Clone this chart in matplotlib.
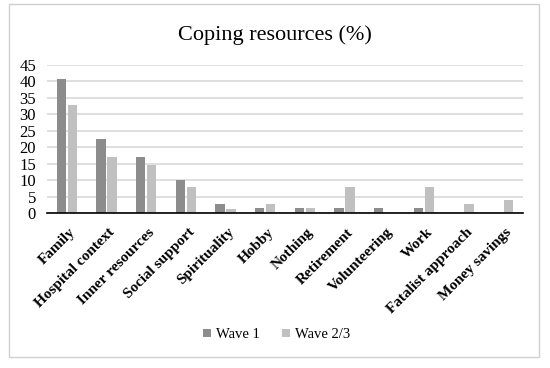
import numpy as np
import matplotlib
matplotlib.use("Agg")
import matplotlib.pyplot as plt
from matplotlib.patches import Rectangle

## data (percent)
categories = ["Family", "Hospital context", "Inner resources", "Social support",
              "Spirituality", "Hobby", "Nothing", "Retirement", "Volunteering",
              "Work", "Fatalist approach", "Money savings"]
wave1 = [40.7, 22.6, 16.9, 10.0, 2.8, 1.4, 1.4, 1.4, 1.4, 1.4, 0.0, 0.0]
wave23 = [32.9, 17.1, 14.5, 7.9, 1.3, 2.6, 1.4, 7.9, 0.0, 7.9, 2.6, 3.9]
series_names = ["Wave 1", "Wave 2/3"]
yticks = list(range(0, 50, 5))

plt.rcParams['font.family'] = ['Liberation Serif', 'DejaVu Serif']

fig = plt.figure(figsize=(5.5, 3.68), dpi=100)
ax = fig.add_axes([47/550, 1 - 213/368, (523 - 47)/550, (213 - 65)/368])

# outer chart frame
fig.patches.append(Rectangle((9/550, 1 - 357/368), (539 - 9)/550, (357 - 4)/368,
                             transform=fig.transFigure, fill=False,
                             edgecolor='#d0d0d0', linewidth=1))

x = np.arange(len(categories))
w = 0.23
ax.bar(x - 0.14, wave1, w, color='#8c8c8c', label=series_names[0], zorder=3)
ax.bar(x + 0.14, wave23, w, color='#c0c0c0', label=series_names[1], zorder=3)

ax.set_xlim(-0.5, len(categories) - 0.5)
ax.set_ylim(0, 45)
ax.set_yticks(yticks)
ax.tick_params(axis='y', length=0, labelsize=12, pad=8)
ax.tick_params(axis='x', length=0, pad=9)
ax.yaxis.grid(True, color='#d9d9d9', linewidth=1.2, zorder=0)
for s in ['top', 'right', 'left']:
    ax.spines[s].set_visible(False)
ax.spines['bottom'].set_color('black')
ax.spines['bottom'].set_linewidth(1.2)
ax.spines['bottom'].set_zorder(4)

ax.set_xticks(x + 0.05)
ax.set_xticklabels(categories, rotation=45, ha='right', rotation_mode='anchor',
                   fontsize=11, fontweight='bold')

fig.text(0.5, 1 - 35/368, "Coping resources (%)", ha='center', va='center',
         fontsize=16)

leg = fig.legend(loc='center', bbox_to_anchor=(277/550, 1 - 335/368),
                 ncol=2, frameon=False, fontsize=10.5, handlelength=0.5,
                 handleheight=0.5, columnspacing=1.5, handletextpad=0.4)

fig.savefig("out.png", dpi=100)
